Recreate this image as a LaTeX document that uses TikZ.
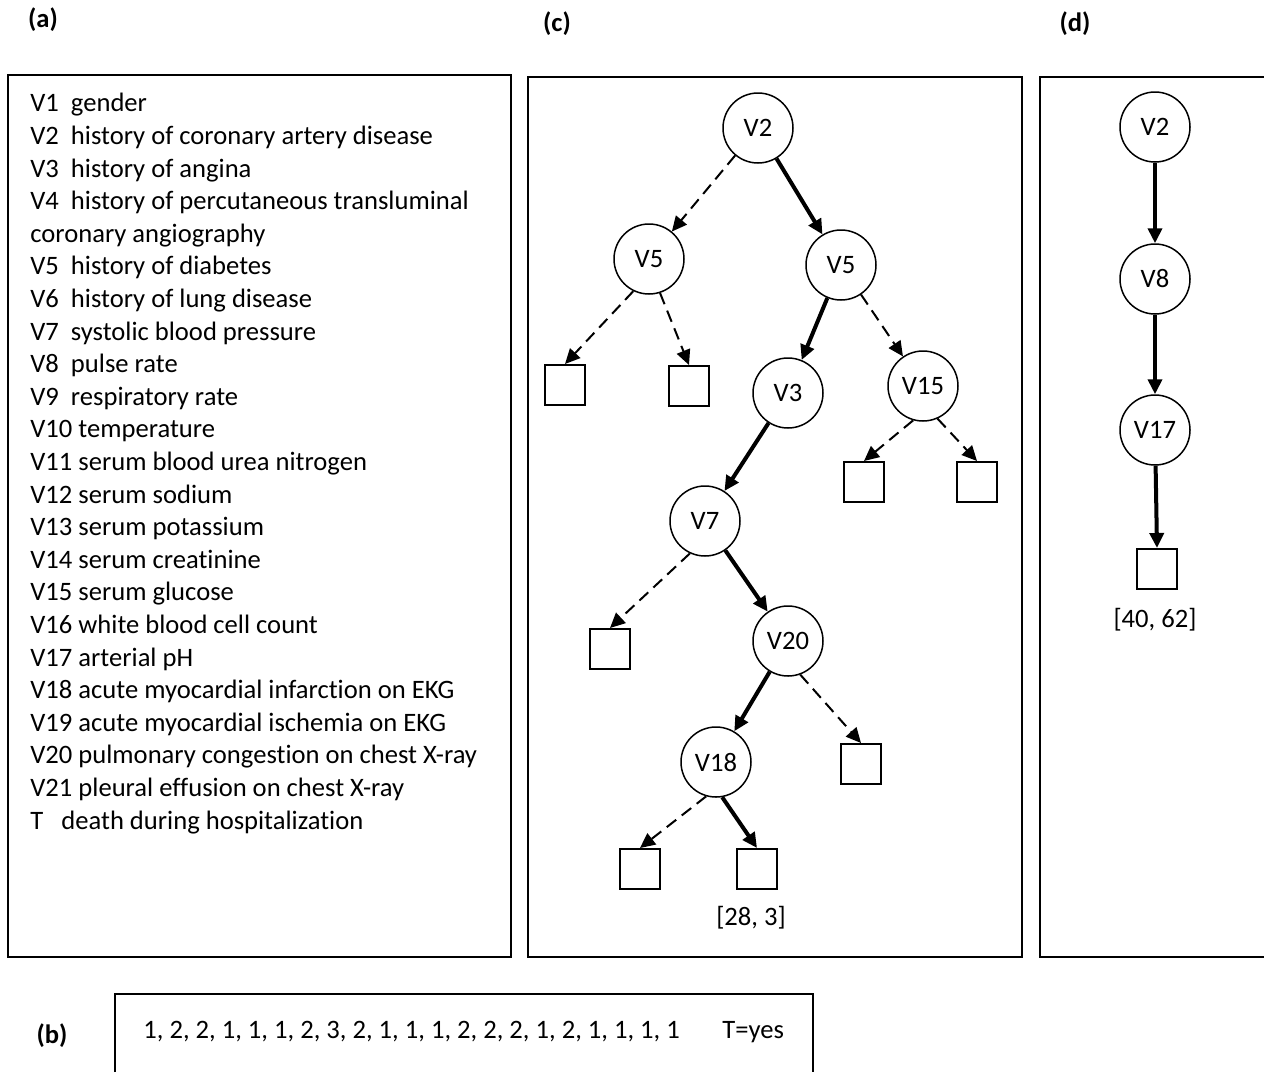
\documentclass[tikz,border=0pt]{standalone}
\usepackage{fontspec}
\setmainfont{Carlito}[Ligatures=NoCommon]
\usetikzlibrary{arrows.meta, positioning}

\begin{document}
\begin{tikzpicture}[x=0.5pt, y=-0.5pt, >={Triangle[length=7.5pt, width=7pt]},
      txt/.style={font=\fontsize{13.3}{16.3}\selectfont},
      lbl/.style={font=\fontsize{13.3}{16}\selectfont\bfseries},
      panel/.style={draw, line width=1pt},
      vnode/.style={circle, draw, line width=0.75pt, minimum size=35pt, inner sep=0pt, txt},
      leaf/.style={draw, line width=1pt, minimum size=20pt, inner sep=0pt},
      yes/.style={->, line width=2pt},
      no/.style={->, line width=1pt, dash pattern=on 6pt off 3.5pt}]

    \useasboundingbox (0,0) rectangle (1264,1072);

    % === panel labels ===
    \node[lbl] (la) at (43,20) {(a)};
    \node[lbl] (lc) at (557,24) {(c)};
    \node[lbl] (ld) at (1075,24) {(d)};
    \node[lbl] (lb) at (52,1036) {(b)};

    % === (a) variable list ===
    \draw[panel] (8,75) rectangle (511,957);
    \node[txt, anchor=north west, align=left, inner sep=0pt] (vars) at (30,93) {%
      V1\ \ gender\\
      V2\ \ history of coronary artery disease\\
      V3\ \ history of angina\\
      V4\ \ history of percutaneous transluminal\\
      coronary angiography\\
      V5\ \ history of diabetes\\
      V6\ \ history of lung disease\\
      V7\ \ systolic blood pressure\\
      V8\ \ pulse rate\\
      V9\ \ respiratory rate\\
      V10 temperature\\
      V11 serum blood urea nitrogen\\
      V12 serum sodium\\
      V13 serum potassium\\
      V14 serum creatinine\\
      V15 serum glucose\\
      V16 white blood cell count\\
      V17 arterial pH\\
      V18 acute myocardial infarction on EKG\\
      V19 acute myocardial ischemia on EKG\\
      V20 pulmonary congestion on chest X-ray\\
      V21 pleural effusion on chest X-ray\\
      T\ \ \ death during hospitalization};

    % === (b) example case ===
    \draw[panel] (115,1072) -- (115,994) -- (813,994) -- (813,1072);
    \node[txt, anchor=west, inner sep=0pt] (case) at (143,1032) {1, 2, 2, 1, 1, 1, 2, 3, 2, 1, 1, 1, 2, 2, 2, 1, 2, 1, 1, 1, 1};
    \node[txt, anchor=west, inner sep=0pt] (tyes) at (722,1032) {T=yes};

    % === (c) full tree ===
    \draw[panel] (528,77) rectangle (1022,957);
    \node[vnode] (v2)  at (758,128) {V2};
    \node[vnode] (v5a) at (649,259) {V5};
    \node[vnode] (v5b) at (841,265) {V5};
    \node[vnode] (v3)  at (788,393) {V3};
    \node[vnode] (v15) at (923,386) {V15};
    \node[vnode] (v7)  at (705,521) {V7};
    \node[vnode] (v20) at (788,641) {V20};
    \node[vnode] (v18) at (716,762) {V18};
    \node[leaf] (l1) at (565,385) {};
    \node[leaf] (l2) at (689,386) {};
    \node[leaf] (l3) at (864,482) {};
    \node[leaf] (l4) at (977,482) {};
    \node[leaf] (l5) at (610,649) {};
    \node[leaf] (l6) at (861,764) {};
    \node[leaf] (l7) at (640,869) {};
    \node[leaf] (l8) at (757,869) {};
    \node[txt] (cnt) at (751,918) {[28, 3]};

    \draw[no]  (v2) -- (v5a);
    \draw[yes] (v2) -- (v5b);
    \draw[no]  (v5a.-116) -- (l1.north);
    \draw[no]  (v5a.-72) -- (l2.north);
    \draw[yes] (v5b) -- (v3);
    \draw[no]  (v5b) -- (v15);
    \draw[no]  (v15.-106) -- (l3.north);
    \draw[no]  (v15.-66) -- (l4.north);
    \draw[yes] (v3) -- (v7);
    \draw[no]  (v7.-115) -- (l5.north);
    \draw[yes] (v7) -- (v20);
    \draw[yes] (v20) -- (v18);
    \draw[no]  (v20.-70) -- (l6.north);
    \draw[no]  (v18.-106) -- (l7.north);
    \draw[yes] (v18.-80) -- (l8.north);

    % === (d) pruned path ===
    \draw[panel] (1264,77) -- (1040,77) -- (1040,957) -- (1264,957);
    \node[vnode] (w2)  at (1155,127) {V2};
    \node[vnode] (w8)  at (1155,279) {V8};
    \node[vnode] (w17) at (1155,430) {V17};
    \node[leaf] (wl) at (1157,569) {};
    \node[txt] (wcnt) at (1155,620) {[40, 62]};

    \draw[yes] (w2) -- (w8);
    \draw[yes] (w8) -- (w17);
    \draw[yes] (w17) -- (wl.north);

\end{tikzpicture}
\end{document}
